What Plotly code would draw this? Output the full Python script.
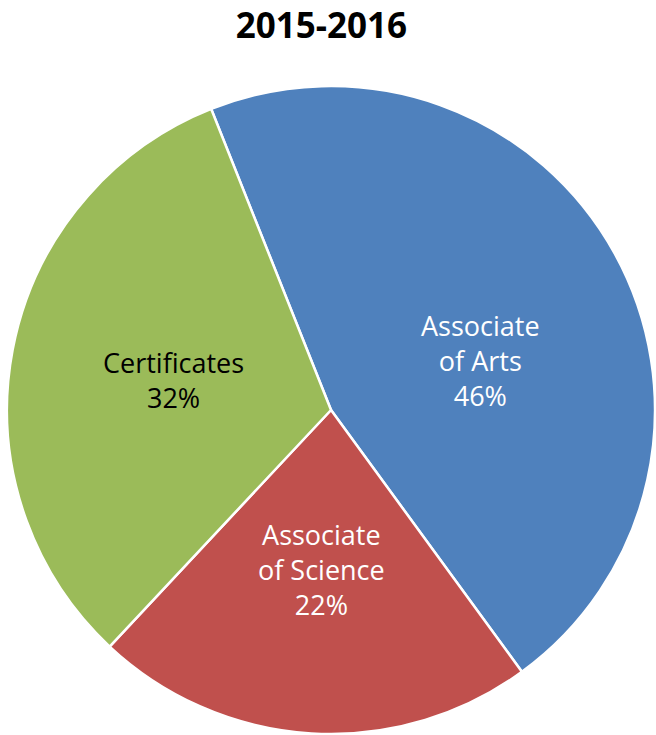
import math
import plotly.graph_objects as go

categories = ["Associate<br>of Arts", "Associate<br>of Science", "Certificates"]
values = [46, 22, 32]
colors = ["#4F81BD", "#C0504D", "#9BBB59"]
text_colors = ["#FFFFFF", "#FFFFFF", "#000000"]

# label placement style (fraction of radius, angular nudge in degrees)
label_radius = [0.485, 0.494, 0.494]
label_nudge = [10.4, 0.0, 0.0]
start_angle = -21.7

fig = go.Figure(go.Pie(
    labels=categories,
    values=values,
    sort=False,
    direction="clockwise",
    rotation=start_angle,
    marker=dict(colors=colors, line=dict(color="#FFFFFF", width=2.5)),
    textinfo="none",
    hoverinfo="label+percent",
    showlegend=False,
    domain=dict(x=[0, 1], y=[0, 1]),
))

total = sum(values)
cum = 0.0
annotations = []
for lab, v, col, fr, nd in zip(categories, values, text_colors, label_radius, label_nudge):
    mid = start_angle + (cum + v / 2) / total * 360 + nd
    cum += v
    th = math.radians(mid)
    annotations.append(dict(
        x=0.5 + fr * 0.5 * math.sin(th),
        y=0.5 + fr * 0.5 * math.cos(th),
        xref="paper", yref="paper",
        xanchor="center", yanchor="middle",
        text=f"{lab}<br>{round(v / total * 100)}%",
        showarrow=False,
        font=dict(family="Open Sans", size=27, color=col),
        align="center",
    ))

fig.update_layout(
    width=656, height=735,
    margin=dict(l=7, r=1, t=86, b=1),
    paper_bgcolor="white",
    plot_bgcolor="white",
    title=dict(text="<b>2015-2016</b>", x=0.49, xanchor="center", y=0.965, yanchor="middle",
               font=dict(family="Open Sans", size=35, color="#000000")),
    annotations=annotations,
)

fig.write_html("out.html", config={"displayModeBar": False},
               post_script="document.body.style.margin='0';")
